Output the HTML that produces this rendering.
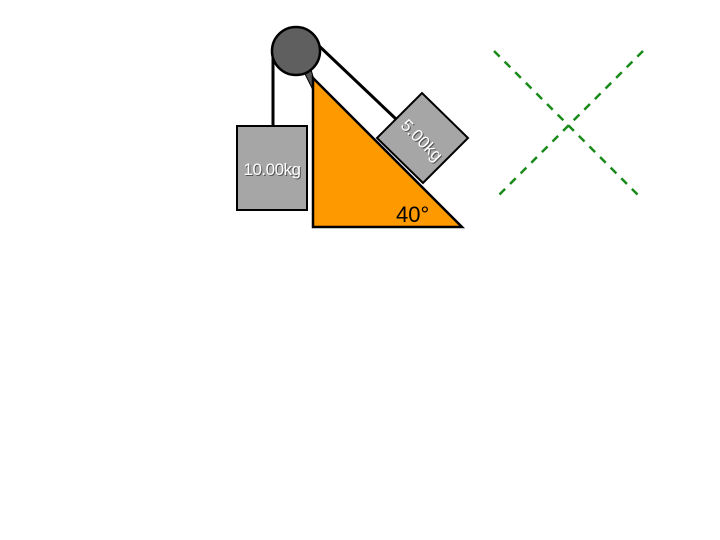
<!DOCTYPE html>
<html><head><style>body{margin:0;background:#fff}svg{display:block}</style></head><body>
<svg width="720" height="540" viewBox="0 0 720 540" xmlns="http://www.w3.org/2000/svg">
<line x1="273" y1="52" x2="273" y2="126" stroke="#000" stroke-width="3"/>
<line x1="317" y1="44" x2="396" y2="119" stroke="#000" stroke-width="3"/>
<polygon points="303,70 310,66 314,80 313,90" fill="#555" stroke="#000" stroke-width="1"/>
<polygon points="313,78 313,227 462,227" fill="#ff9900" stroke="#000" stroke-width="2.5"/>
<circle cx="296" cy="51" r="24" fill="#5f5f5f" stroke="#000" stroke-width="2.5"/>
<rect x="237" y="126" width="70" height="84" fill="#a6a6a6" stroke="#000" stroke-width="2"/>
<text x="273" y="176" font-family="Liberation Sans, sans-serif" font-size="17" fill="#555" text-anchor="middle" letter-spacing="-0.5">10.00kg</text>
<text x="272" y="175" font-family="Liberation Sans, sans-serif" font-size="17" fill="#fff" text-anchor="middle" letter-spacing="-0.5">10.00kg</text>
<polygon points="377,138 422,93 468,138 423,183" fill="#a6a6a6" stroke="#000" stroke-width="2"/>
<text transform="translate(423,141) rotate(45)" font-family="Liberation Sans, sans-serif" font-size="17" fill="#555" text-anchor="middle" dy="6">5.00kg</text>
<text transform="translate(422,140) rotate(45)" font-family="Liberation Sans, sans-serif" font-size="17" fill="#fff" text-anchor="middle" dy="6">5.00kg</text>
<text x="396" y="222" font-family="Liberation Sans, sans-serif" font-size="22" fill="#000">40°</text>
<g stroke="#1a8a1a" stroke-width="2.5" stroke-dasharray="8,7" fill="none">
<line x1="494" y1="51" x2="640" y2="197"/>
<line x1="643" y1="51" x2="497" y2="197"/>
</g>
</svg>
</body></html>
